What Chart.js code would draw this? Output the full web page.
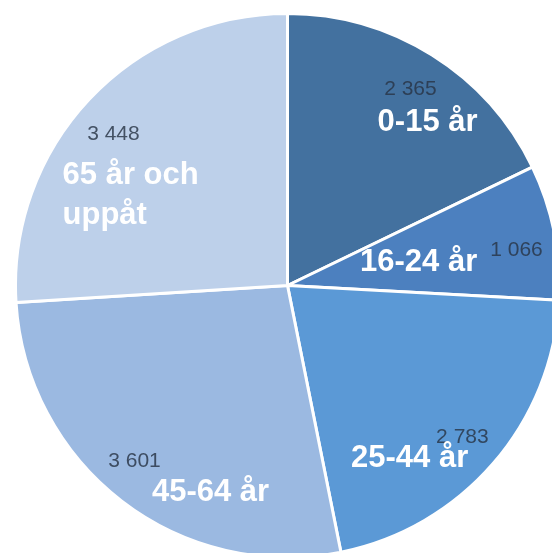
<!DOCTYPE html>
<html>
<head>
<meta charset="utf-8">
<script src="https://cdn.jsdelivr.net/npm/chart.js@4.4.1/dist/chart.umd.min.js"></script>
<style>
  html, body { margin: 0; padding: 0; background: #fff; overflow: hidden; }
  body { width: 552px; height: 553px; position: relative; }
  .pie-box { position: absolute; left: 13.5px; top: 11.5px; width: 547px; height: 547px; }
</style>
</head>
<body>
<div class="pie-box"><canvas id="pie"></canvas></div>
<script>
  const categories = ["0-15 år", "16-24 år", "25-44 år", "45-64 år", "65 år och\nuppåt"];
  const values = [2365, 1066, 2783, 3601, 3448];
  const colors = ["#43719f", "#4c80bf", "#5b99d6", "#9bb9e1", "#bdd0ea"];

  // label placement, as fractions of the radius from the pie centre
  const valuePos = [[0.452, -0.721], [0.842, -0.129], [0.643, 0.559], [-0.5625, 0.647], [-0.640, -0.555]];
  const namePos = [[0.515, -0.599], [0.482, -0.085], [0.449, 0.636], [-0.283, 0.761], [-0.827, -0.404]];

  const fmt = (v) => String(v).replace(/\B(?=(\d{3})+(?!\d))/g, " ");

  const sliceLabels = {
    id: "sliceLabels",
    afterDatasetsDraw(chart) {
      const ctx = chart.ctx;
      const arcs = chart.getDatasetMeta(0).data;
      arcs.forEach((arc, i) => {
        const { x, y, outerRadius } = arc.getProps(["x", "y", "outerRadius"], true);
        const r = outerRadius;
        ctx.save();
        ctx.textBaseline = "middle";

        ctx.font = "21px 'Liberation Sans', Arial, sans-serif";
        ctx.fillStyle = "rgba(40, 52, 70, 0.82)";
        ctx.textAlign = "center";
        ctx.fillText(fmt(values[i]), x + valuePos[i][0] * r, y + valuePos[i][1] * r);

        ctx.font = "bold 31px 'Liberation Sans', Arial, sans-serif";
        ctx.fillStyle = "#ffffff";
        const lines = categories[i].split("\n");
        if (lines.length > 1) {
          ctx.textAlign = "left";
          lines.forEach((line, k) => {
            ctx.fillText(line, x + namePos[i][0] * r, y + namePos[i][1] * r + k * 40);
          });
        } else {
          ctx.fillText(lines[0], x + namePos[i][0] * r, y + namePos[i][1] * r);
        }
        ctx.restore();
      });
    },
  };

  new Chart(document.getElementById("pie").getContext("2d"), {
    type: "pie",
    data: {
      labels: categories,
      datasets: [
        {
          data: values,
          backgroundColor: colors,
          borderColor: "#ffffff",
          borderWidth: 3,
        },
      ],
    },
    options: {
      responsive: true,
      maintainAspectRatio: false,
      animation: false,
      layout: { padding: 0 },
      plugins: {
        legend: { display: false },
        tooltip: { enabled: false },
      },
    },
    plugins: [sliceLabels],
  });
</script>
</body>
</html>
